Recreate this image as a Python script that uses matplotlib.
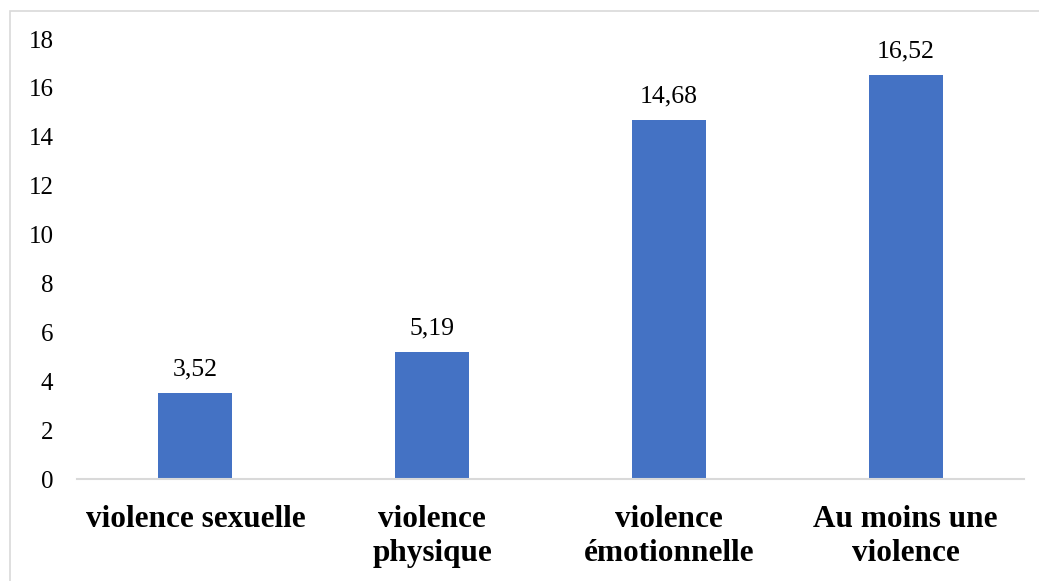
import numpy as np
import matplotlib
matplotlib.use('Agg')
import matplotlib.pyplot as plt
from matplotlib.patches import Rectangle

matplotlib.rcParams['font.family'] = ['Liberation Serif', 'DejaVu Serif']

categories = ['violence sexuelle', 'violence\nphysique', 'violence\némotionnelle', 'Au moins une\nviolence']
values = [3.52, 5.19, 14.68, 16.52]
value_labels = ['3,52', '5,19', '14,68', '16,52']

fig = plt.figure(figsize=(10.39, 5.81), dpi=100)
ax = fig.add_axes([77 / 1039, 102 / 581, 947 / 1039, 440 / 581])

index = np.arange(len(categories))
bars = ax.bar(index, values, 0.3125, color='#4472C4', zorder=2)

for b, lbl in zip(bars, value_labels):
    ax.annotate(lbl, (b.get_x() + b.get_width() / 2, b.get_height()),
                xytext=(0, 9), textcoords='offset points',
                ha='center', va='bottom', fontsize=18.5, color='#000000')

ax.set_xlim(-0.5, len(categories) - 0.5)
ax.set_ylim(0, 18)
ax.set_yticks(range(0, 19, 2))
ax.set_xticks(index)
ax.set_xticklabels(categories, fontsize=22.5, fontweight='bold', linespacing=1.2)
ax.tick_params(axis='y', labelsize=18, length=0, pad=17)
ax.tick_params(axis='x', length=0, pad=19)

for s in ['left', 'right', 'top']:
    ax.spines[s].set_visible(False)
ax.spines['bottom'].set_color('#d9d9d9')
ax.spines['bottom'].set_linewidth(1.5)

# chart frame (runs off the right and bottom edges)
fig.patches.append(Rectangle((10 / 1039, -0.1), 1.2, 570 / 581 + 0.1,
                             transform=fig.transFigure, fill=False,
                             edgecolor='#d9d9d9', linewidth=1.2))

plt.savefig('out.png', dpi=100)
